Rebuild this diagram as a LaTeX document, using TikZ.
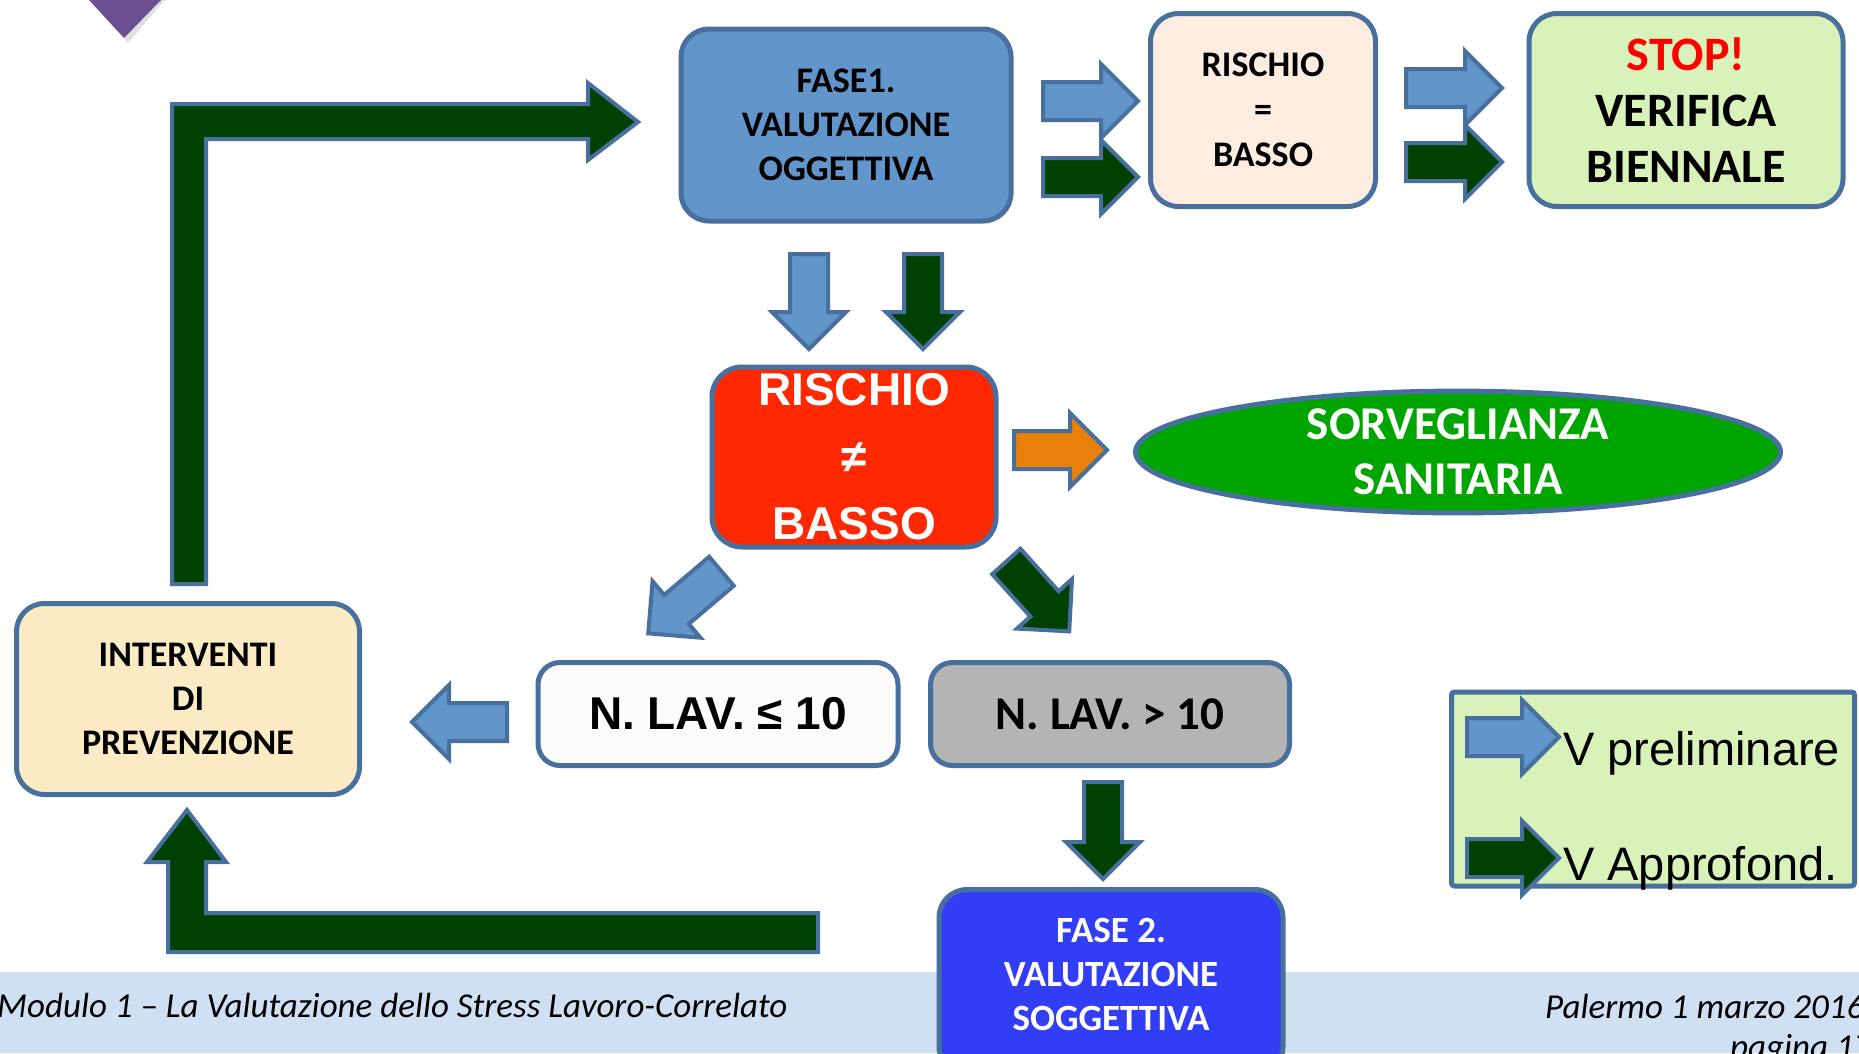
\documentclass[tikz,border=0pt]{standalone}
\usepackage{fontspec}
\setmainfont{Carlito}
\newfontfamily\arialf{Liberation Sans}
\usetikzlibrary{shapes.arrows,shapes.geometric}
\definecolor{edge}{RGB}{72,112,158}
\definecolor{lblue}{RGB}{98,149,201}
\definecolor{dgreen}{RGB}{0,64,0}
\definecolor{peach}{RGB}{253,237,225}
\definecolor{lgreen}{RGB}{217,242,185}
\definecolor{rred}{RGB}{255,40,0}
\definecolor{orng}{RGB}{232,128,10}
\definecolor{sgreen}{RGB}{0,165,0}
\definecolor{lgray}{RGB}{180,180,180}
\definecolor{cream}{RGB}{250,235,197}
\definecolor{fblue}{RGB}{50,62,245}
\definecolor{band}{RGB}{207,224,242}
\definecolor{purp}{RGB}{106,80,144}
\definecolor{offwhite}{RGB}{253,252,250}
\tikzset{
	box/.style={draw=edge,line width=5pt,rounded corners=28pt,align=center,inner sep=0pt},
	barrow/.style={single arrow,draw=edge,line width=4pt,anchor=tail,inner xsep=0pt,inner ysep=17pt,
		single arrow head extend=18pt,minimum height=95pt,minimum width=0pt},
	larrow/.style={draw=edge,line width=4pt,fill=dgreen,line join=miter},
	calb/.style={font=\fontsize{36}{44}\selectfont\bfseries},
	foot/.style={font=\fontsize{35}{40}\selectfont\itshape,anchor=base west,inner sep=0pt},
}
\begin{document}
\begin{tikzpicture}[x=1pt,y=-1pt]
		\useasboundingbox (0,0) rectangle (1859,1053);
		\clip (0,0) rectangle (1859,1053);
		\fill[white] (0,0) rectangle (1859,1053);
		%Footer band
		\fill[band] (0,972) rectangle (1859,1053);
		\fill[black!12] (93,0) -- (165,0) -- (128,43) -- cycle;
		\fill[purp] (89,0) -- (161,0) -- (124,38) -- cycle;
		%Loop arrows
		\draw[larrow] (172,584) -- (172,104) -- (588,104) -- (588,83) -- (638,122)
			-- (588,160) -- (588,139) -- (206,139) -- (206,584) -- cycle;
		\draw[larrow] (818,913) -- (206,913) -- (206,862) -- (226,862) -- (187,810)
			-- (147,862) -- (168,862) -- (168,952) -- (818,952) -- cycle;
		%Row 1
		\node[box,fill=lblue,calb,minimum width=330pt,minimum height=192pt] (fase1) at (846,125)
			{FASE1.\\VALUTAZIONE\\OGGETTIVA};
		\node[box,fill=peach,font=\fontsize{36}{45}\selectfont\bfseries,minimum width=225pt,minimum height=193pt] (basso) at (1263,110)
			{RISCHIO\\=\\BASSO};
		\node[box,fill=lgreen,font=\fontsize{48}{56}\selectfont\bfseries,minimum width=314pt,minimum height=193pt] (stop) at (1686,110)
			{\textcolor{red}{STOP!}\\VERIFICA\\BIENNALE};
		\node[barrow,fill=lblue] (a1) at (1041,101) {};
		\node[barrow,fill=dgreen] (a2) at (1041,177) {};
		\node[barrow,fill=lblue,minimum height=96pt] (a3) at (1404,88) {};
		\node[barrow,fill=dgreen,minimum height=96pt] (a4) at (1404,162) {};
		\node[barrow,fill=lblue,rotate=-90] (a5) at (809,252) {};
		\node[barrow,fill=dgreen,rotate=-90] (a6) at (923,252) {};
		%Row 2
		\node[box,fill=rred,text=white,font=\arialf\fontsize{46}{67}\selectfont\bfseries,rounded corners=30pt,
			minimum width=284pt,minimum height=180pt] (rischio) at (854,457) {RISCHIO\\≠\\BASSO};
		\node[ellipse,draw=edge,line width=5pt,fill=sgreen,text=white,align=center,inner sep=0pt,
			font=\fontsize{47}{55}\selectfont\bfseries,minimum width=645pt,minimum height=120pt] (sorv) at (1458,452)
			{SORVEGLIANZA\\SANITARIA};
		\node[barrow,fill=orng,minimum height=93pt] (a7) at (1012,450) {};
		\node[barrow,fill=lblue,rotate=220.3,minimum height=96pt] (a8) at (723,570) {};
		\node[barrow,fill=dgreen,rotate=-48,minimum height=94pt] (a9) at (1005,560) {};
		%Row 3
		\node[box,fill=cream,calb,minimum width=343pt,minimum height=191pt] (interv) at (188,699)
			{INTERVENTI\\DI\\PREVENZIONE};
		\node[box,fill=offwhite,font=\arialf\fontsize{46}{55}\selectfont\bfseries,rounded corners=22pt,
			minimum width=360pt,minimum height=103pt] (lavle) at (718,714) {N. LAV. ≤ 10};
		\node[box,fill=lgray,font=\fontsize{47}{55}\selectfont\bfseries,rounded corners=22pt,
			minimum width=359pt,minimum height=103pt] (lavgt) at (1110,714) {N. LAV. > 10};
		\node[barrow,fill=lblue,rotate=180] (a10) at (509,722) {};
		\node[barrow,fill=dgreen,rotate=-90,minimum height=97pt] (a11) at (1103,780) {};
		%Legend
		\node[draw=edge,line width=5pt,fill=lgreen,rounded corners=3pt,minimum width=403pt,minimum height=194pt] (legend) at (1653,789) {};
		\node[barrow,fill=lblue,minimum height=92pt] (l1) at (1465,737) {};
		\node[barrow,fill=dgreen,minimum height=92pt] (l2) at (1465,858) {};
		\node[anchor=base west,inner sep=0pt,font=\arialf\fontsize{47}{55}\selectfont] (lp) at (1563,765) {V preliminare};
		\node[anchor=base west,inner sep=0pt,font=\arialf\fontsize{47}{55}\selectfont] (la) at (1563,880) {V Approfond.};
		%Footer
		\node[box,fill=fblue,minimum width=344pt,minimum height=185pt] (fase2) at (1111,982) {};
		\node[align=center,text=white,font=\fontsize{37}{44}\selectfont\bfseries] (fase2t) at (fase2.center)
			[yshift=8pt] {FASE 2.\\VALUTAZIONE\\SOGGETTIVA};
		\node[foot] (foot1) at (-3,1017) {Modulo 1 – La Valutazione dello Stress Lavoro-Correlato};
		\node[foot] (foot2) at (1545,1018) {Palermo 1 marzo 2016};
		\node[foot] (foot3) at (1730,1058) {pagina 17};
\end{tikzpicture}
\end{document}
